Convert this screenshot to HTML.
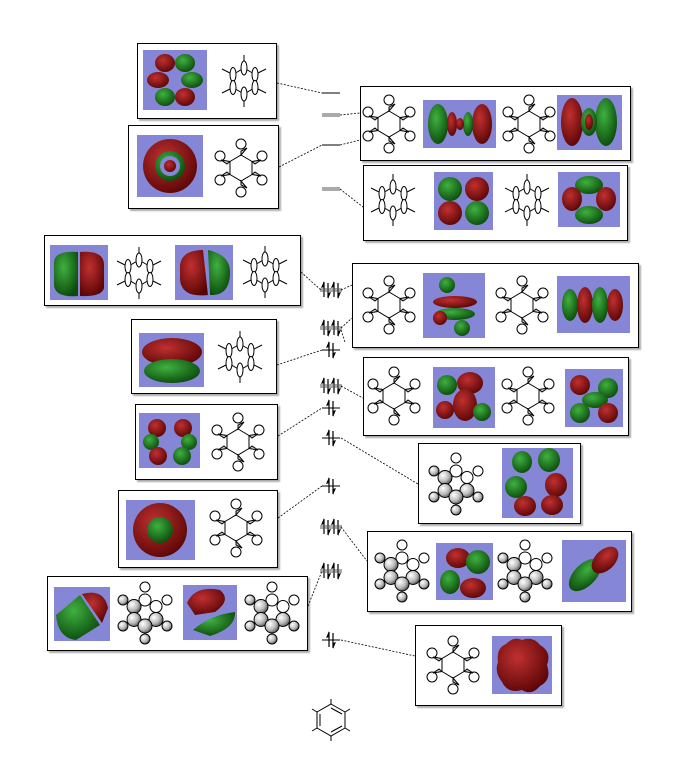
<!DOCTYPE html>
<html><head><meta charset="utf-8"><style>
html,body{margin:0;padding:0;background:#fff;}
svg{display:block;font-family:"Liberation Sans",sans-serif;}
</style></head><body>
<svg width="695" height="778" viewBox="0 0 695 778" xmlns="http://www.w3.org/2000/svg">
<defs>
<filter id="sh" x="-5%" y="-5%" width="115%" height="115%"><feDropShadow dx="2" dy="2" stdDeviation="0.8" flood-color="#888" flood-opacity="0.7"/></filter>
<radialGradient id="ball" cx="35%" cy="35%" r="70%"><stop offset="0" stop-color="#fff"/><stop offset="0.6" stop-color="#bbb"/><stop offset="1" stop-color="#555"/></radialGradient>
<radialGradient id="rd" cx="40%" cy="35%" r="70%"><stop offset="0" stop-color="#c03030"/><stop offset="1" stop-color="#5a0505"/></radialGradient>
<radialGradient id="gr" cx="40%" cy="35%" r="70%"><stop offset="0" stop-color="#40b040"/><stop offset="1" stop-color="#0a4a0a"/></radialGradient>
<g id="mol" fill="#fff" stroke="#000" stroke-width="1">
<polygon points="0,-13 11,-6.5 11,6.5 0,13 -11,6.5 -11,-6.5" fill="none"/>
<ellipse cx="11" cy="-6.5" rx="3" ry="7"/><ellipse cx="-11" cy="-6.5" rx="3" ry="7"/>
<ellipse cx="11" cy="6.5" rx="3" ry="7"/><ellipse cx="-11" cy="6.5" rx="3" ry="7"/>
<ellipse cx="0" cy="-13" rx="3" ry="7"/><ellipse cx="0" cy="13" rx="3" ry="7"/>
<line x1="0" y1="-20" x2="0" y2="-26"/><line x1="0" y1="20" x2="0" y2="26"/>
<line x1="14" y1="-8" x2="22" y2="-12"/><line x1="-14" y1="-8" x2="-22" y2="-12"/>
<line x1="14" y1="8" x2="22" y2="12"/><line x1="-14" y1="8" x2="-22" y2="12"/>
</g>
<g id="mol2" fill="#fff" stroke="#000" stroke-width="1">
<polygon points="0,-13 11,-6.5 11,6.5 0,13 -11,6.5 -11,-6.5" fill="none"/>
<circle cx="0" cy="-24" r="5"/><circle cx="0" cy="24" r="5"/>
<circle cx="21" cy="-12" r="5"/><circle cx="-21" cy="-12" r="5"/>
<circle cx="21" cy="12" r="5"/><circle cx="-21" cy="12" r="5"/>
<path d="M0,-13 L6,-20 L0,-17Z M11,-6.5 L20,-8 L14,-4Z M-11,-6.5 L-20,-8 L-14,-4Z M11,6.5 L20,8 L14,4Z M-11,6.5 L-20,8 L-14,4Z M0,13 L6,20 L0,17Z" fill="#ccc"/>
</g>
<g id="mol3" stroke="#000" stroke-width="1" fill="url(#ball)">
<polygon points="0,-13 11,-6.5 11,6.5 0,13 -11,6.5 -11,-6.5" fill="none"/>
<circle cx="0" cy="-13" r="6" fill="#fff"/><circle cx="11" cy="-6.5" r="6" fill="#fff"/>
<circle cx="-11" cy="-6.5" r="7"/><circle cx="11" cy="6.5" r="7"/><circle cx="-11" cy="6.5" r="7"/><circle cx="0" cy="13" r="7"/>
<circle cx="0" cy="-26" r="5" fill="#fff"/><circle cx="22" cy="-13" r="5" fill="#fff"/><circle cx="-22" cy="-13" r="5"/>
<circle cx="22" cy="13" r="5"/><circle cx="-22" cy="13" r="5"/><circle cx="0" cy="26" r="5"/>
</g>
<g id="up"><line x1="0" y1="7" x2="0" y2="-8" stroke="#000" stroke-width="1.2"/><path d="M0,-9 L-3,-2 L0,-3Z" fill="#000"/></g>
<g id="dn"><line x1="0" y1="-7" x2="0" y2="8" stroke="#000" stroke-width="1.2"/><path d="M0,9 L3,2 L0,3Z" fill="#000"/></g>
<g id="pair"><use href="#up" x="-2"/><use href="#dn" x="2"/><line x1="-9" y1="0" x2="9" y2="0" stroke="#000" stroke-width="1"/></g>
<g id="pair2"><use href="#up" x="-7"/><use href="#dn" x="-3"/><use href="#up" x="3"/><use href="#dn" x="7"/><line x1="-11" y1="-1" x2="11" y2="-1" stroke="#555" stroke-width="1"/><line x1="-11" y1="1" x2="11" y2="1" stroke="#555" stroke-width="1"/></g>
</defs>

<g fill="#fff" stroke="#000" stroke-width="1" filter="url(#sh)">
<rect x="137.5" y="43.5" width="139" height="75"/>
<rect x="128.5" y="125.5" width="150" height="83"/>
<rect x="44.5" y="235.5" width="256" height="70"/>
<rect x="131.5" y="319.5" width="145" height="74"/>
<rect x="135.5" y="404.5" width="142" height="75"/>
<rect x="118.5" y="490.5" width="159" height="77"/>
<rect x="47.5" y="576.5" width="260" height="74"/>
<rect x="360.5" y="86.5" width="270" height="74"/>
<rect x="363.5" y="165.5" width="264" height="75"/>
<rect x="352.5" y="263.5" width="286" height="84"/>
<rect x="363.5" y="357.5" width="265" height="78"/>
<rect x="418.5" y="443.5" width="162" height="80"/>
<rect x="367.5" y="531.5" width="264" height="80"/>
<rect x="415.5" y="625.5" width="146" height="80"/>
</g>

<g fill="#8686d6">
<rect x="143" y="50" width="64" height="60"/>
<rect x="137" y="135" width="66" height="62"/>
<rect x="50" y="245" width="58" height="55"/>
<rect x="175" y="245" width="58" height="55"/>
<rect x="139" y="333" width="65" height="54"/>
<rect x="139" y="413" width="61" height="55"/>
<rect x="126" y="500" width="69" height="60"/>
<rect x="54" y="587" width="56" height="54"/>
<rect x="183" y="585" width="54" height="55"/>
<rect x="423" y="100" width="73" height="48"/>
<rect x="557" y="95" width="65" height="55"/>
<rect x="434" y="172" width="59" height="58"/>
<rect x="558" y="172" width="62" height="55"/>
<rect x="423" y="273" width="62" height="65"/>
<rect x="557" y="276" width="73" height="57"/>
<rect x="433" y="367" width="62" height="61"/>
<rect x="565" y="369" width="58" height="58"/>
<rect x="502" y="448" width="71" height="70"/>
<rect x="436" y="543" width="57" height="57"/>
<rect x="562" y="540" width="64" height="62"/>
<rect x="492" y="636" width="60" height="58"/>
</g>

<!-- orbital blobs -->
<g stroke="none">
<!-- box1 -->
<ellipse cx="165" cy="63" rx="10" ry="9" fill="url(#rd)"/><ellipse cx="185" cy="63" rx="10" ry="9" fill="url(#gr)"/>
<ellipse cx="158" cy="80" rx="11" ry="8" fill="url(#rd)"/><ellipse cx="192" cy="80" rx="11" ry="8" fill="url(#gr)"/>
<ellipse cx="165" cy="97" rx="10" ry="9" fill="url(#gr)"/><ellipse cx="185" cy="97" rx="10" ry="9" fill="url(#rd)"/>
<!-- box2 ring -->
<circle cx="170" cy="166" r="27" fill="url(#rd)"/><circle cx="170" cy="166" r="15" fill="url(#gr)"/><circle cx="170" cy="166" r="10" fill="#8686d6"/><circle cx="170" cy="166" r="6" fill="url(#rd)"/>
<!-- box3 -->
<path d="M54,262 Q55,250 78,252 L78,296 Q55,298 54,285Z" fill="url(#gr)"/><path d="M80,252 Q104,250 104,265 L104,288 Q102,297 80,296Z" fill="url(#rd)"/>
<path d="M180,265 Q182,250 203,250 L208,295 Q182,298 180,280Z" fill="url(#rd)"/><path d="M208,250 Q230,255 230,272 Q230,296 210,295Z" fill="url(#gr)"/>
<!-- box4 -->
<ellipse cx="172" cy="352" rx="30" ry="14" fill="url(#rd)"/><ellipse cx="172" cy="371" rx="28" ry="12" fill="url(#gr)"/>
<!-- box5 -->
<circle cx="157" cy="428" r="9" fill="url(#rd)"/><circle cx="183" cy="428" r="9" fill="url(#rd)"/><circle cx="151" cy="442" r="8" fill="url(#gr)"/><circle cx="189" cy="442" r="8" fill="url(#gr)"/><circle cx="158" cy="456" r="9" fill="url(#rd)"/><circle cx="182" cy="456" r="9" fill="url(#gr)"/>
<!-- box6 -->
<circle cx="160" cy="530" r="27" fill="url(#rd)"/><circle cx="160" cy="530" r="13" fill="url(#gr)"/>
<!-- box7 -->
<path d="M56,615 L80,595 L100,625 L76,640Q58,638 56,615Z" fill="url(#gr)"/><path d="M82,594 Q104,588 108,608 L102,623 Z" fill="url(#rd)"/>
<path d="M187,603 Q195,585 220,590 Q232,600 215,612 L195,615Z" fill="url(#rd)"/><path d="M193,630 Q210,615 235,612 Q236,628 210,636Z" fill="url(#gr)"/>
<!-- A -->
<ellipse cx="438" cy="124" rx="10" ry="20" fill="url(#gr)"/><ellipse cx="482" cy="124" rx="10" ry="20" fill="url(#rd)"/><ellipse cx="452" cy="124" rx="5" ry="12" fill="url(#rd)"/><ellipse cx="468" cy="124" rx="5" ry="12" fill="url(#gr)"/><ellipse cx="460" cy="124" rx="4" ry="6" fill="url(#rd)"/>
<ellipse cx="572" cy="122" rx="11" ry="24" fill="url(#rd)"/><ellipse cx="606" cy="122" rx="11" ry="24" fill="url(#gr)"/><ellipse cx="589" cy="122" rx="8" ry="14" fill="url(#gr)"/><ellipse cx="589" cy="122" rx="4" ry="8" fill="url(#rd)"/>
<!-- B -->
<circle cx="450" cy="189" r="12" fill="url(#gr)"/><circle cx="477" cy="189" r="12" fill="url(#rd)"/><circle cx="450" cy="213" r="12" fill="url(#rd)"/><circle cx="477" cy="213" r="12" fill="url(#gr)"/>
<ellipse cx="589" cy="185" rx="14" ry="9" fill="url(#gr)"/><ellipse cx="572" cy="199" rx="10" ry="12" fill="url(#rd)"/><ellipse cx="606" cy="199" rx="10" ry="12" fill="url(#rd)"/><ellipse cx="589" cy="215" rx="14" ry="9" fill="url(#gr)"/>
<!-- C -->
<circle cx="447" cy="285" r="8" fill="url(#gr)"/><ellipse cx="455" cy="302" rx="22" ry="6" fill="url(#rd)"/><ellipse cx="455" cy="314" rx="20" ry="6" fill="url(#gr)"/><circle cx="462" cy="328" r="8" fill="url(#gr)"/><circle cx="440" cy="318" r="7" fill="url(#rd)"/>
<ellipse cx="570" cy="305" rx="8" ry="16" fill="url(#gr)"/><ellipse cx="585" cy="305" rx="8" ry="18" fill="url(#rd)"/><ellipse cx="600" cy="305" rx="8" ry="18" fill="url(#gr)"/><ellipse cx="615" cy="305" rx="8" ry="16" fill="url(#rd)"/>
<!-- D -->
<circle cx="447" cy="385" r="10" fill="url(#gr)"/><ellipse cx="470" cy="383" rx="13" ry="11" fill="url(#rd)"/><ellipse cx="465" cy="405" rx="12" ry="16" fill="url(#rd)"/><circle cx="482" cy="412" r="9" fill="url(#gr)"/><circle cx="445" cy="410" r="9" fill="url(#rd)"/>
<circle cx="580" cy="385" r="10" fill="url(#rd)"/><circle cx="608" cy="388" r="10" fill="url(#gr)"/><ellipse cx="595" cy="400" rx="13" ry="8" fill="url(#gr)"/><circle cx="580" cy="413" r="10" fill="url(#gr)"/><circle cx="608" cy="413" r="10" fill="url(#rd)"/>
<!-- E -->
<ellipse cx="522" cy="462" rx="10" ry="11" fill="url(#gr)"/><ellipse cx="549" cy="460" rx="11" ry="12" fill="url(#gr)"/><ellipse cx="516" cy="487" rx="11" ry="11" fill="url(#gr)"/><ellipse cx="556" cy="485" rx="11" ry="12" fill="url(#rd)"/><ellipse cx="525" cy="506" rx="11" ry="10" fill="url(#rd)"/><ellipse cx="552" cy="505" rx="11" ry="10" fill="url(#rd)"/>
<!-- F -->
<ellipse cx="458" cy="558" rx="12" ry="10" fill="url(#rd)"/><ellipse cx="478" cy="562" rx="12" ry="12" fill="url(#gr)"/><ellipse cx="450" cy="582" rx="10" ry="12" fill="url(#gr)"/><ellipse cx="473" cy="588" rx="13" ry="10" fill="url(#rd)"/>
<ellipse cx="585" cy="575" rx="11" ry="20" transform="rotate(45 585 575)" fill="url(#gr)"/><ellipse cx="605" cy="560" rx="10" ry="16" transform="rotate(45 605 560)" fill="url(#rd)"/>
<!-- G -->
<path d="M522,640 Q533,636 540,645 Q552,652 547,665 Q552,680 540,686 Q532,696 522,690 Q508,694 502,682 Q494,672 498,662 Q496,648 506,644 Q514,636 522,640Z" fill="url(#rd)"/>
</g>

<!-- molecule drawings -->
<use href="#mol" x="244" y="81"/>
<use href="#mol2" x="241" y="168"/>
<use href="#mol" x="139" y="273"/>
<use href="#mol" x="265" y="272"/>
<use href="#mol" x="240" y="357"/>
<use href="#mol2" x="238" y="442"/>
<use href="#mol2" x="236" y="528"/>
<use href="#mol3" x="145" y="613"/>
<use href="#mol3" x="272" y="613"/>
<use href="#mol2" x="389" y="124"/>
<use href="#mol2" x="529" y="124"/>
<use href="#mol" x="393" y="200"/>
<use href="#mol" x="527" y="200"/>
<use href="#mol2" x="389" y="305"/>
<use href="#mol2" x="522" y="305"/>
<use href="#mol2" x="394" y="396"/>
<use href="#mol2" x="528" y="396"/>
<use href="#mol3" x="456" y="484"/>
<use href="#mol3" x="402" y="571"/>
<use href="#mol3" x="525" y="571"/>
<use href="#mol2" x="453" y="665"/>

<!-- benzene -->
<g stroke="#000" fill="none" stroke-width="1">
<polygon points="331,704 345,712 345,728 331,736 317,728 317,712"/>
<line x1="331" y1="708" x2="342" y2="714"/><line x1="342" y1="726" x2="331" y2="732"/><line x1="320" y1="726" x2="320" y2="714"/>
<line x1="331" y1="704" x2="331" y2="699"/><line x1="331" y1="736" x2="331" y2="741"/>
<line x1="345" y1="712" x2="350" y2="709"/><line x1="317" y1="712" x2="312" y2="709"/>
<line x1="345" y1="728" x2="350" y2="731"/><line x1="317" y1="728" x2="312" y2="731"/>
</g>

<!-- virtual levels -->
<g stroke="#000" stroke-width="1">
<line x1="322" y1="93" x2="340" y2="93"/>
<line x1="322" y1="114" x2="340" y2="114" stroke="#555"/><line x1="322" y1="116" x2="340" y2="116" stroke="#555"/>
<line x1="322" y1="145" x2="340" y2="145"/>
<line x1="322" y1="188" x2="340" y2="188" stroke="#555"/><line x1="322" y1="190" x2="340" y2="190" stroke="#555"/>
</g>
<!-- occupied levels -->
<use href="#pair2" x="331" y="290"/>
<use href="#pair2" x="331" y="328"/>
<use href="#pair" x="331" y="350"/>
<use href="#pair2" x="331" y="386"/>
<use href="#pair" x="331" y="408"/>
<use href="#pair" x="331" y="438"/>
<use href="#pair" x="331" y="486"/>
<use href="#pair2" x="331" y="527"/>
<use href="#pair2" x="331" y="571"/>
<use href="#pair" x="331" y="640"/>

<!-- connectors -->
<g stroke="#000" stroke-width="0.8" stroke-dasharray="2,1.5" fill="none">
<line x1="277" y1="83" x2="322" y2="93"/>
<line x1="279" y1="167" x2="322" y2="145"/>
<line x1="340" y1="115" x2="360" y2="113"/>
<line x1="340" y1="145" x2="360" y2="140"/>
<line x1="340" y1="189" x2="363" y2="207"/>
<line x1="301" y1="272" x2="322" y2="291"/>
<line x1="341" y1="290" x2="352" y2="285"/>
<line x1="341" y1="328" x2="352" y2="318"/>
<line x1="341" y1="330" x2="345" y2="342"/>
<line x1="277" y1="365" x2="322" y2="350"/>
<line x1="341" y1="386" x2="363" y2="398"/>
<line x1="278" y1="436" x2="322" y2="408"/>
<line x1="341" y1="438" x2="418" y2="484"/>
<line x1="278" y1="518" x2="322" y2="486"/>
<line x1="341" y1="527" x2="367" y2="561"/>
<line x1="308" y1="606" x2="322" y2="571"/>
<line x1="341" y1="640" x2="415" y2="656"/>
</g>
</svg>
</body></html>
